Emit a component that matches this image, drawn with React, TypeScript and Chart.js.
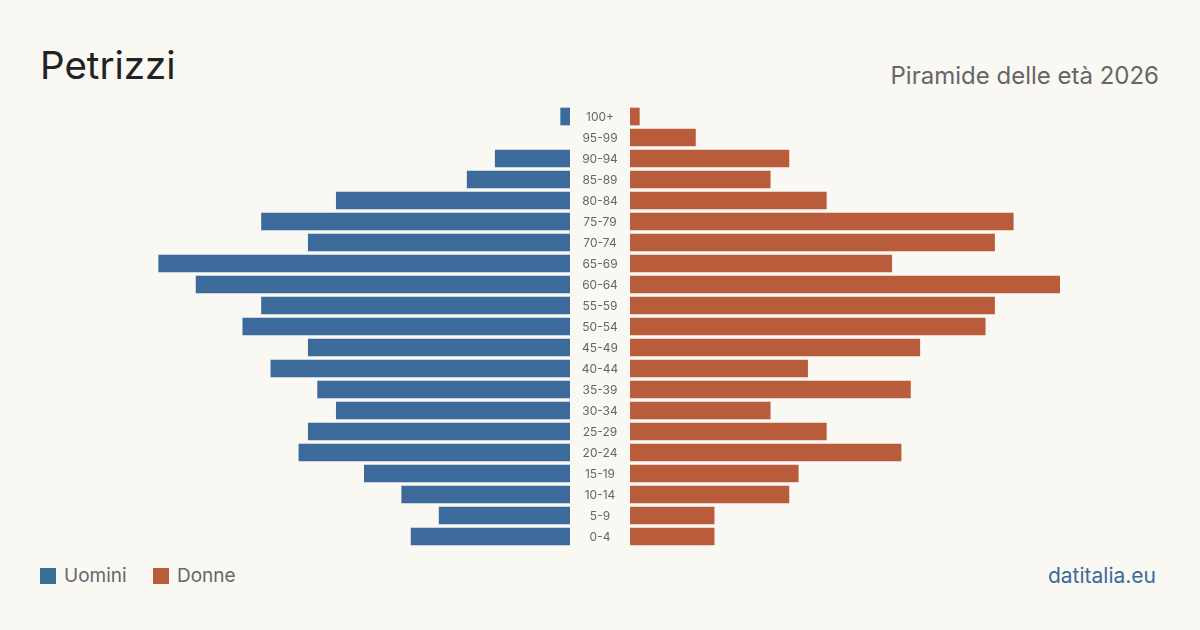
import React, { useEffect, useRef } from "react";
import { Chart, registerables } from "chart.js";

Chart.register(...registerables);

const ageGroups = [
  "100+", "95-99", "90-94", "85-89", "80-84", "75-79", "70-74", "65-69", "60-64", "55-59",
  "50-54", "45-49", "40-44", "35-39", "30-34", "25-29", "20-24", "15-19", "10-14", "5-9", "0-4",
];
const men = [1, 0, 8, 11, 25, 33, 28, 44, 40, 33, 35, 28, 32, 27, 25, 28, 29, 22, 18, 14, 17];
const women = [1, 7, 17, 15, 21, 41, 39, 28, 46, 39, 38, 31, 19, 30, 15, 21, 29, 18, 17, 9, 9];
const axisMax = 46;

const BLUE = "#3b6a9b";
const ORANGE = "#b95c3c";
const BG = "#f9f8f3";
const FONT = "Inter, 'Noto Sans', sans-serif";

const centerLabels = {
  id: "centerLabels",
  afterDraw(chart: any) {
    const { ctx, chartArea } = chart;
    const y = chart.scales.y;
    const cx = (chartArea.right + chart.width) / 2;
    ctx.save();
    ctx.font = "12px " + FONT;
    ctx.fillStyle = "#666";
    ctx.textAlign = "center";
    ctx.textBaseline = "middle";
    ageGroups.forEach((lab, i) => {
      ctx.fillText(lab, cx, y.getPixelForValue(i) + 0.5);
    });
    ctx.restore();
  },
};

function makeChart(canvas: HTMLCanvasElement, data: number[], color: string, left: boolean) {
  return new Chart(canvas, {
    type: "bar",
    data: {
      labels: ageGroups,
      datasets: [{ data: data.map((v) => (v === 0 ? null : v)), backgroundColor: color, borderWidth: 0, barThickness: 17 }],
    },
    options: {
      indexAxis: "y",
      animation: false,
      responsive: false,
      maintainAspectRatio: false,
      layout: { padding: left ? { left: 0, right: 60, top: 0, bottom: 0 } : 0 },
      plugins: { legend: { display: false }, tooltip: { enabled: false } },
      scales: {
        x: { display: false, min: 0, max: axisMax, reverse: left },
        y: { display: false },
      },
    },
    plugins: left ? [centerLabels] : [],
  } as any);
}

export default function App() {
  const leftRef = useRef<HTMLCanvasElement>(null);
  const rightRef = useRef<HTMLCanvasElement>(null);

  useEffect(() => {
    document.body.style.margin = "0";
    document.body.style.background = BG;
    const a = makeChart(leftRef.current!, men, BLUE, true);
    const b = makeChart(rightRef.current!, women, ORANGE, false);
    return () => {
      a.destroy();
      b.destroy();
    };
  }, []);

  return (
    <div style={{ position: "fixed", left: 0, top: 0, width: 1200, height: 630, background: BG, fontFamily: FONT, overflow: "hidden" }}>
      <div style={{ position: "absolute", left: 40, top: 45, fontSize: 38.5, lineHeight: "40px", color: "#222", whiteSpace: "nowrap" }}>Petrizzi</div>
      <div style={{ position: "absolute", right: 41, top: 61, fontSize: 24, lineHeight: "30px", color: "#666", whiteSpace: "nowrap" }}>Piramide delle età 2026</div>
      <canvas ref={leftRef} width={490} height={441} style={{ position: "absolute", left: 140, top: 106, width: 490, height: 441 }} />
      <canvas ref={rightRef} width={430} height={441} style={{ position: "absolute", left: 630, top: 106, width: 430, height: 441 }} />
      <div style={{ position: "absolute", left: 40, top: 568, width: 16, height: 16, background: BLUE }} />
      <div style={{ position: "absolute", left: 64, top: 562, fontSize: 19, lineHeight: "28px", color: "#666" }}>Uomini</div>
      <div style={{ position: "absolute", left: 153, top: 568, width: 16, height: 16, background: ORANGE }} />
      <div style={{ position: "absolute", left: 177, top: 562, fontSize: 19, lineHeight: "28px", color: "#666" }}>Donne</div>
      <div style={{ position: "absolute", right: 44, top: 562, fontSize: 21, lineHeight: "28px", color: BLUE }}>datitalia.eu</div>
    </div>
  );
}
